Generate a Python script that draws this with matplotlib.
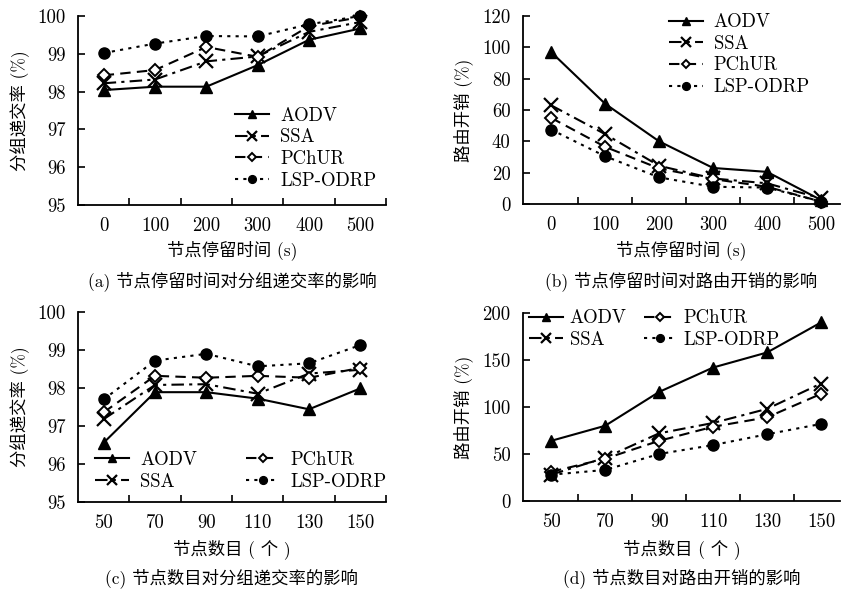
import matplotlib
matplotlib.use("Agg")
import matplotlib.pyplot as plt
from matplotlib.ticker import FixedLocator

plt.rcParams['font.family'] = ['cmr10', 'Noto Sans CJK SC']
plt.rcParams['axes.formatter.use_mathtext'] = True

series = ['AODV', 'SSA', 'PChUR', 'LSP-ODRP']

# (a) pause time vs delivery ratio
pause_labels = ['0', '100', '200', '300', '400', '500']
a_aodv = [98.04, 98.13, 98.13, 98.7, 99.37, 99.67]
a_ssa = [98.22, 98.32, 98.8, 98.93, 99.58, 99.84]
a_pchur = [98.43, 98.57, 99.18, 98.92, 99.73, 99.97]
a_lsp = [99.02, 99.27, 99.47, 99.46, 99.78, 100.0]

# (b) pause time vs routing overhead
b_aodv = [97, 64, 40, 23, 20.5, 2.5]
b_ssa = [63, 44.6, 24.4, 16.3, 13.2, 3.6]
b_pchur = [55, 36.5, 22.7, 15.9, 11, 1.5]
b_lsp = [47.5, 30.5, 17, 11, 10.5, 1.5]

# (c) node number vs delivery ratio
node_labels = ['50', '70', '90', '110', '130', '150']
c_aodv = [96.56, 97.89, 97.89, 97.72, 97.44, 97.99]
c_ssa = [97.18, 98.08, 98.1, 97.85, 98.38, 98.48]
c_pchur = [97.36, 98.32, 98.27, 98.32, 98.27, 98.53]
c_lsp = [97.7, 98.72, 98.9, 98.57, 98.65, 99.13]

# (d) node number vs routing overhead
d_aodv = [64, 80, 116, 142, 158, 190]
d_ssa = [28, 46, 72, 83, 98, 125]
d_pchur = [31, 45, 64, 79, 89, 114]
d_lsp = [28, 33, 50, 59.5, 71, 82]

styles = {
    'AODV': dict(linestyle='-', marker='^', markersize=9, markerfacecolor='black'),
    'SSA': dict(linestyle=(0, (6, 2.5, 1.5, 2.5)), marker='x', markersize=10, markeredgewidth=1.6),
    'PChUR': dict(linestyle=(0, (5, 3)), marker='D', markersize=6.5, markerfacecolor='white', markeredgewidth=1.4),
    'LSP-ODRP': dict(linestyle=(0, (1.5, 2.5)), marker='o', markersize=8, markerfacecolor='black'),
}

FS = 13.5
W, H = 842, 589
fig = plt.figure(figsize=(W / 100, H / 100), dpi=100)


def add_axes(l, r, t, b):
    return fig.add_axes([l / W, 1 - b / H, (r - l) / W, (b - t) / H])


def setup(ax, xlabels, ylim, yticks, xlim):
    ax.set_xlim(*xlim)
    ax.set_ylim(*ylim)
    for s in ['top', 'right']:
        ax.spines[s].set_visible(False)
    for s in ['left', 'bottom']:
        ax.spines[s].set_linewidth(1.3)
    ax.set_xticks(range(len(xlabels)))
    ax.set_xticklabels(xlabels)
    ax.xaxis.set_minor_locator(FixedLocator([i + 0.5 for i in range(len(xlabels))]))
    ax.tick_params(axis='x', which='major', length=0, pad=9, labelsize=FS)
    ax.tick_params(axis='x', which='minor', direction='in', length=5, width=1.2)
    ax.set_yticks(yticks)
    ax.set_yticklabels([str(v) for v in yticks])
    ax.tick_params(axis='y', direction='in', length=5, width=1.2, pad=9, labelsize=FS)


def draw(ax, data):
    handles = []
    for name, vals in zip(series, data):
        h, = ax.plot(range(len(vals)), vals, color='black', linewidth=1.5,
                     clip_on=False, label=name, **styles[name])
        handles.append(h)
    return handles


def texts(ax_l, ax_r, ax_t, ax_b, ylabel, ylabel_x, xlabel, xlabel_y, caption, caption_y):
    cx = (ax_l + ax_r) / 2 / W
    fig.text(ylabel_x / W, 1 - (ax_t + ax_b) / 2 / H, ylabel, rotation=90,
             ha='center', va='center', fontsize=12.5)
    fig.text(cx, 1 - xlabel_y / H, xlabel, ha='center', va='center', fontsize=12.5)
    fig.text(cx, 1 - caption_y / H, caption, ha='center', va='center', fontsize=12.5)


LEG = dict(frameon=False, fontsize=FS, handlelength=1.8, handletextpad=0.6,
           borderpad=0, borderaxespad=0, markerscale=0.7)

# Panel (a)
axa = add_axes(78, 386, 16, 205)
setup(axa, pause_labels, (95, 100), [95, 96, 97, 98, 99, 100], (-0.5, 5.5))
draw(axa, [a_aodv, a_ssa, a_pchur, a_lsp])
axa.legend(loc='upper left', bbox_to_anchor=(0.51, 0.52), labelspacing=0.2, **LEG)
texts(78, 386, 16, 205, '分组递交率 (%)', 20, '节点停留时间 (s)', 250, '(a) 节点停留时间对分组递交率的影响', 281)

# Panel (b)
axb = add_axes(523, 840, 16, 204)
setup(axb, pause_labels, (0, 120), [0, 20, 40, 60, 80, 100, 120], (-0.52, 5.35))
draw(axb, [b_aodv, b_ssa, b_pchur, b_lsp])
axb.legend(loc='upper left', bbox_to_anchor=(0.46, 1.015), labelspacing=0.2, **LEG)
texts(523, 840, 16, 204, '路由开销 (%)', 463, '节点停留时间 (s)', 250, '(b) 节点停留时间对路由开销的影响', 281)

# Panel (c)
axc = add_axes(78, 386, 312, 502)
setup(axc, node_labels, (95, 100), [95, 96, 97, 98, 99, 100], (-0.5, 5.5))
hc = draw(axc, [c_aodv, c_ssa, c_pchur, c_lsp])
axc.legend(handles=hc, loc='lower left', bbox_to_anchor=(0.055, 0.06), ncol=2,
           labelspacing=0.2, columnspacing=2.6, **LEG)
texts(78, 386, 312, 502, '分组递交率 (%)', 20, '节点数目 ( 个 )', 549, '(c) 节点数目对分组递交率的影响', 578)

# Panel (d)
axd = add_axes(523, 840, 313, 501)
setup(axd, node_labels, (0, 200), [0, 50, 100, 150, 200], (-0.52, 5.35))
hd = draw(axd, [d_aodv, d_ssa, d_pchur, d_lsp])
legd = dict(LEG)
legd['handletextpad'] = 0.35
axd.legend(handles=hd, loc='upper left', bbox_to_anchor=(0.02, 1.02), ncol=2,
           labelspacing=0.2, columnspacing=0.9, **legd)
texts(523, 840, 313, 501, '路由开销 (%)', 463, '节点数目 ( 个 )', 549, '(d) 节点数目对路由开销的影响', 578)

fig.savefig('out.png', dpi=100, facecolor='white')
